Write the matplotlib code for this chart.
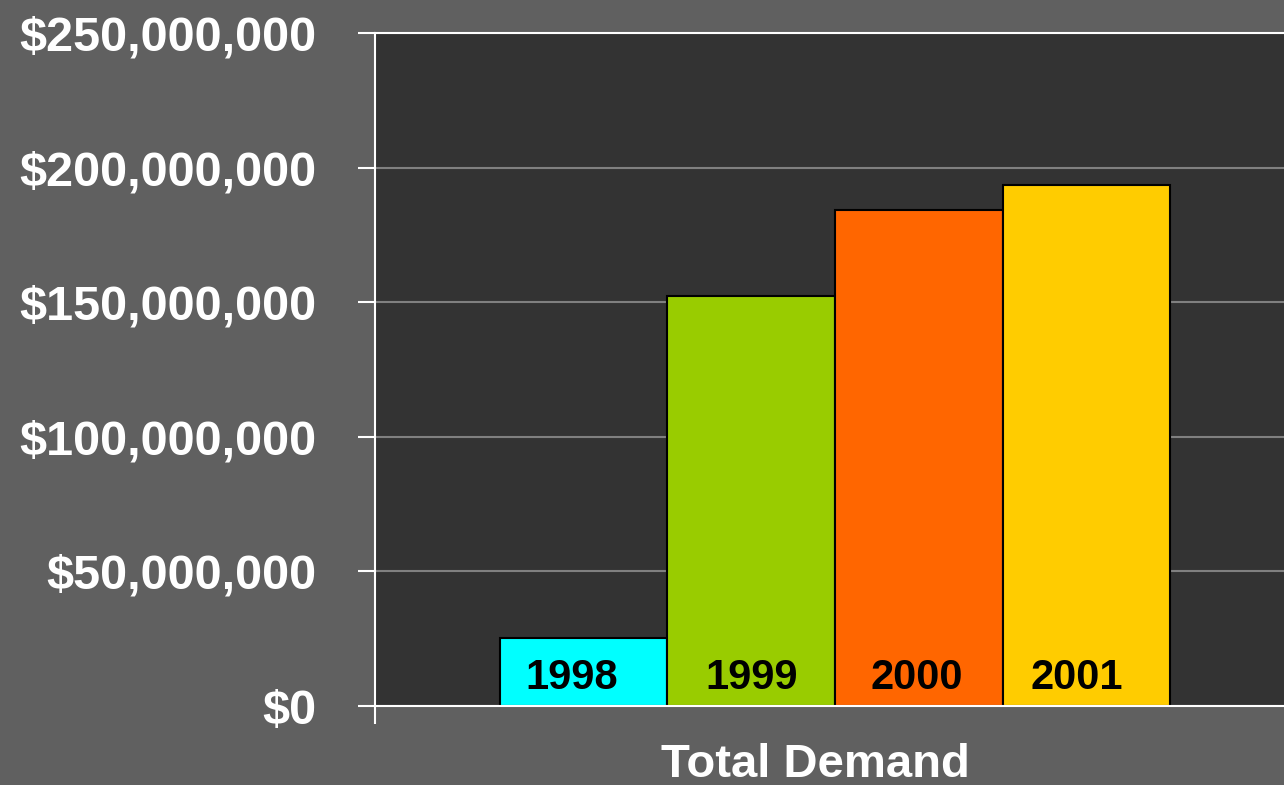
import matplotlib
matplotlib.use("Agg")
import matplotlib.pyplot as plt
from matplotlib.ticker import FuncFormatter
from matplotlib.transforms import offset_copy

years = ["1998", "1999", "2000", "2001"]
values = [25.3e6, 152.3e6, 184.2e6, 193.5e6]
colors = ["#00FFFF", "#99CC00", "#FF6600", "#FFCC00"]
category = "Total Demand"
yticks = [0, 50e6, 100e6, 150e6, 200e6, 250e6]

W, H = 1284, 785
fig = plt.figure(figsize=(W / 100, H / 100), dpi=100, facecolor="#606060")
ax = fig.add_axes([375 / W, (H - 706) / H, (1295 - 375) / W, (706 - 33) / H])
ax.set_facecolor("#333333")

font = "Liberation Sans"
xs = list(range(len(years)))
ax.bar(xs, values, width=1.0, color=colors, edgecolor="black", linewidth=1.5, zorder=3)

trans = offset_copy(ax.transData, fig=fig, x=0, y=17, units="dots")
label_dx = [-0.07, 0.0, -0.01, -0.06]
for x, y, dx in zip(xs, years, label_dx):
    ax.text(x + dx, 0, y, transform=trans, ha="center", va="baseline",
            fontsize=30, fontweight="bold", family=font, color="black", zorder=4)

ax.set_xlim(-1.244, 4.244)
ax.set_ylim(0, 250e6)
ax.set_yticks(yticks)
ax.yaxis.set_major_formatter(FuncFormatter(lambda v, p: "${:,.0f}".format(v)))
for lab in ax.get_yticklabels():
    lab.set_family(font)
    lab.set_fontweight("bold")
    lab.set_fontsize(35)
    lab.set_color("white")
ax.tick_params(axis="y", direction="out", length=12.5, width=1.5, color="white", pad=30)

ax.set_xticks([-1.244])
ax.set_xticklabels([""])
ax.tick_params(axis="x", direction="out", length=13, width=1.5, color="white")

ax.grid(axis="y", color="#808080", linewidth=1.5, zorder=1)
ax.set_axisbelow(True)

ax.spines["right"].set_visible(False)
for s in ["top", "left", "bottom"]:
    ax.spines[s].set_color("white")
    ax.spines[s].set_linewidth(1.5)
ax.spines["bottom"].set_zorder(5)

fig.text(815 / W, (H - 777) / H, category, ha="center", va="baseline",
         fontsize=34, fontweight="bold", family=font, color="white")

fig.savefig("out.png", dpi=100, facecolor=fig.get_facecolor())
